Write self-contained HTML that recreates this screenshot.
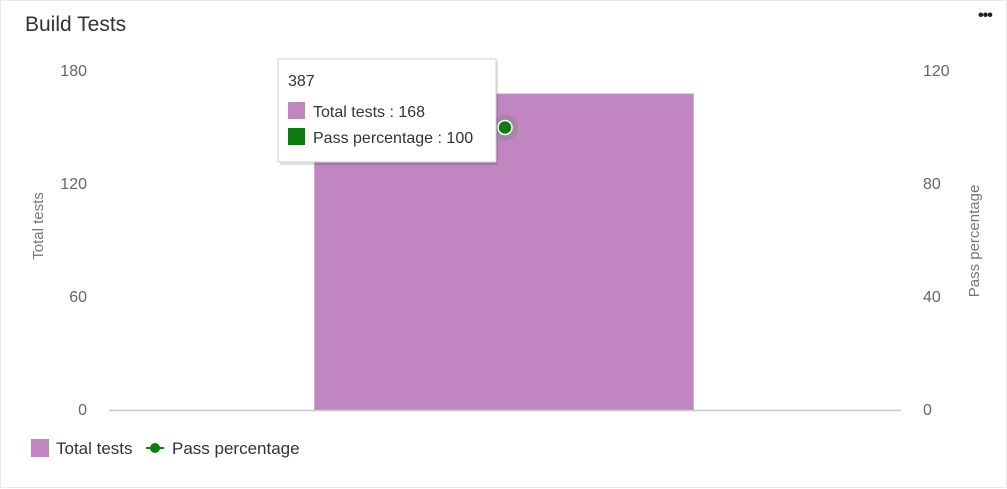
<!DOCTYPE html>
<html><head><meta charset="utf-8"><style>
body{margin:0;background:#fff;font-family:"Liberation Sans",sans-serif;}
#card{position:absolute;left:0;top:0;width:1005px;height:486px;border:1px solid #eaeaea;background:#fff;}
#title{position:absolute;left:24px;top:12px;font-size:21px;color:#333;}
#more{position:absolute;left:977px;top:6px;font-size:16px;font-weight:bold;color:#222;letter-spacing:-1px;}
svg text{font-family:"Liberation Sans",sans-serif;}
</style></head><body>
<div id="card">
<div id="title">Build Tests</div>
<div id="more">•••</div>
<svg id="chart" width="1007" height="488" style="position:absolute;left:0;top:0"></svg>
</div>
<script>
const categories=["387"];
const totalTests=[168];
const passPct=[100];
const leftTicks=[0,60,120,180];
const rightTicks=[0,40,80,120];
const NS="http://www.w3.org/2000/svg";
const svg=document.getElementById('chart');
const X0=108,X1=900,Y0=409,Y1=70;
const yL=v=>Y0-(v/180)*(Y0-Y1);
const yR=v=>Y0-(v/120)*(Y0-Y1);
const band=(X1-X0)/categories.length;
const xC=i=>X0+band*(i+0.5);
function mk(t,a,txt){const e=document.createElementNS(NS,t);for(const k in a)e.setAttribute(k,a[k]);if(txt!==undefined)e.textContent=txt;svg.appendChild(e);return e;}
leftTicks.forEach(v=>{const e=mk('text',{x:86,y:yL(v)+5,'text-anchor':'end','font-size':16,fill:'#666'},v);

});
rightTicks.forEach(v=>{const e=mk('text',{x:922,y:yR(v)+5,'text-anchor':'start','font-size':16,fill:'#666'},v);

});
let t=mk('text',{x:0,y:0,transform:'translate(42,225) rotate(-90)','text-anchor':'middle','font-size':15,fill:'#777'},'Total tests');


t=mk('text',{x:0,y:0,transform:'translate(978,240) rotate(-90)','text-anchor':'middle','font-size':15,fill:'#777'},'Pass percentage');


categories.forEach((c,i)=>{
 const w=band*0.479;
 const b=mk('rect',{x:xC(i)-w/2-1,y:yL(totalTests[i]),width:w,height:Y0-yL(totalTests[i]),fill:'#c185c1'});
 
 
});
let l=mk('line',{x1:X0,x2:X1,y1:Y0+0.5,y2:Y0+0.5,stroke:'#c8c8c8','stroke-width':1.5});


categories.forEach((c,i)=>{
 const h=mk('circle',{cx:xC(i),cy:yR(passPct[i]),r:13,fill:'#8a8a8a','fill-opacity':0.5});
 
 
 const p=mk('circle',{cx:xC(i),cy:yR(passPct[i]),r:7,fill:'#107c10',stroke:'#fff','stroke-width':1.5});
 
 
});
const g=mk('g',{});


const tt=(t,a,txt)=>{const e=document.createElementNS(NS,t);for(const k in a)e.setAttribute(k,a[k]);if(txt!==undefined)e.textContent=txt;g.appendChild(e);return e;};
tt('rect',{x:279,y:60,width:218,height:104,fill:'#000','fill-opacity':0.12,rx:2});
tt('rect',{x:277,y:58,width:218,height:103,fill:'#fff',stroke:'#d0d0d0'});
tt('text',{x:287,y:85,'font-size':16,fill:'#333'},categories[0]);
tt('rect',{x:287,y:101,width:17,height:17,fill:'#c185c1'});
tt('text',{x:312,y:116,'font-size':16,fill:'#333'},'Total tests : '+totalTests[0]);
tt('rect',{x:287,y:127,width:17,height:17,fill:'#107c10'});
tt('text',{x:312,y:142,'font-size':16,fill:'#333'},'Pass percentage : '+passPct[0]);
let r=mk('rect',{x:30,y:438,width:18,height:18,fill:'#c185c1'});


t=mk('text',{x:55,y:453,'font-size':17,fill:'#333'},'Total tests');


l=mk('line',{x1:145,x2:163,y1:447,y2:447,stroke:'#107c10','stroke-width':2});


let c=mk('circle',{cx:154,cy:447,r:5,fill:'#107c10'});


t=mk('text',{x:171,y:453,'font-size':17,fill:'#333'},'Pass percentage');


</script>
</body></html>
